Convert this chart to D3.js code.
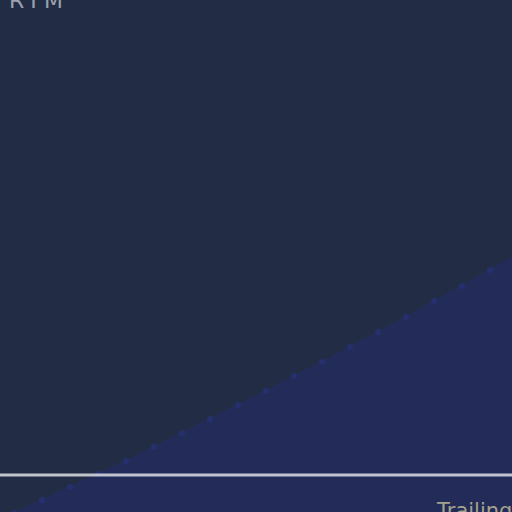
<!DOCTYPE html>
<html lang="en">

<head>
    <meta charset="UTF-8">
    <title>RTM trailing</title>
    <style>
        html, body {
            margin: 0;
            padding: 0;
            background: #222d45;
            overflow: hidden;
        }

        .title {
            font: 22px "DejaVu Sans", sans-serif;
            letter-spacing: 4px;
            fill: #9aa0ad;
        }

        .label {
            font: 21px "DejaVu Sans", sans-serif;
            fill: #a3a28c;
        }
    </style>
</head>

<body>
    <svg width="512" height="512"></svg>
    <script src="https://d3js.org/d3.v7.min.js"></script>
    <script>
        // periods shown in the crop (index) and the cumulative value at each
        let periods = d3.range(19);
        let values = [-1, 12, 25, 38, 51, 65, 79, 93, 107, 121, 136, 150, 165, 180, 195, 211, 226, 242, 257];
        let threshold = 37;
        let titleText = "RTM";
        let labelText = "Trailing";

        let svg = d3.select("svg"),
            width = +svg.attr("width"),
            height = +svg.attr("height");

        let x = d3.scaleLinear().domain([0, 18]).range([14, 518]);
        let y = d3.scaleLinear().domain([0, 512]).range([height, 0]);

        let data = periods.map((p, i) => ({ p: p, v: values[i] }));

        svg.append("rect")
            .attr("width", width)
            .attr("height", height)
            .attr("fill", "#222d45");

        let area = d3.area()
            .x(d => x(d.p))
            .y0(height + 20)
            .y1(d => y(d.v));

        svg.append("path")
            .datum(data)
            .attr("d", area)
            .attr("fill", "#232b58");

        svg.append("path")
            .datum(data)
            .attr("d", d3.line().x(d => x(d.p)).y(d => y(d.v)))
            .attr("fill", "none")
            .attr("stroke", "#242d60")
            .attr("stroke-width", 1);

        svg.selectAll("circle")
            .data(data)
            .enter().append("circle")
            .attr("cx", d => x(d.p))
            .attr("cy", d => y(d.v))
            .attr("r", 3)
            .attr("fill", "#283380")
            .attr("fill-opacity", 0.6);

        svg.append("line")
            .attr("x1", 0)
            .attr("x2", width)
            .attr("y1", y(threshold))
            .attr("y2", y(threshold))
            .attr("stroke", "#ffffff")
            .attr("stroke-opacity", 0.72)
            .attr("stroke-width", 3);

        svg.append("text")
            .attr("class", "title")
            .attr("x", 9)
            .attr("y", 8)
            .text(titleText);

        svg.append("text")
            .attr("class", "label")
            .attr("x", 437)
            .attr("y", 518)
            .text(labelText);
    </script>

</body>

</html>
